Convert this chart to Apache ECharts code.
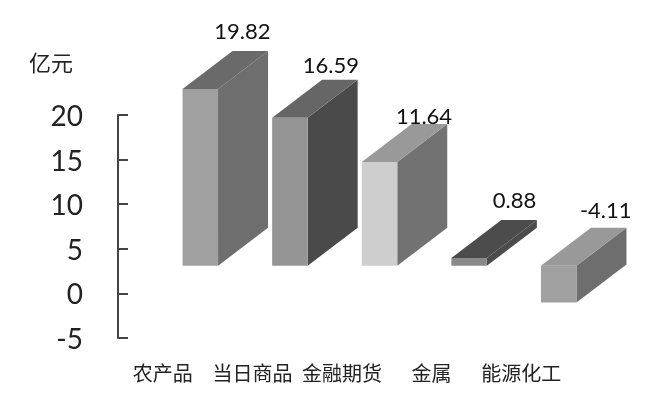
<!DOCTYPE html>
<html><head><meta charset="utf-8">
<style>html,body{margin:0;padding:0;background:#fff}#c{width:663px;height:405px}</style>
<script src="https://cdn.jsdelivr.net/npm/echarts@6/dist/echarts.min.js"></script>
</head><body><div id="c"></div>
<script>
const categories = ['农产品','当日商品','金融期货','金属','能源化工'];
const values = [19.82,16.59,11.64,0.88,-4.11];
const frontColors = ['#a0a0a0','#959595','#cecece','#8a8a8a','#a0a0a0'];
const sideColors = ['#6e6e6e','#4a4a4a','#727272','#4c4c4c','#6e6e6e'];
const topColors = ['#6a6a6a','#666666','#999999','#4c4c4c','#999999'];
const labelDx = [42,41,44.5,45.5,47];
const labelDy = [-19,-14,-7,-19,-17];
const latin = 'Lato, "Noto Sans CJK SC", sans-serif';
const cjk = '"Noto Sans CJK SC", sans-serif';
const chart = echarts.init(document.getElementById('c'));
const DX = 50, DY = -38, SHIFT = -27.6, OFFX = 37.5, W = 35.5;
function renderItem(params, api) {
  const i = params.dataIndex;
  const v = api.value(1);
  const zero = api.coord([i, 0]);
  const tip = api.coord([i, v]);
  const cx = zero[0] + OFFX;
  const l = cx - W / 2, r = cx + W / 2;
  const yTop = Math.min(zero[1], tip[1]) + SHIFT;
  const yBot = Math.max(zero[1], tip[1]) + SHIFT;
  return { type: 'group', children: [
    { type: 'polygon', shape: { points: [[r,yTop],[r+DX,yTop+DY],[r+DX,yBot+DY],[r,yBot]] }, style: { fill: sideColors[i] } },
    { type: 'polygon', shape: { points: [[l,yTop],[l+DX,yTop+DY],[r+DX,yTop+DY],[r,yTop]] }, style: { fill: topColors[i] } },
    { type: 'rect', shape: { x: l, y: yTop, width: W, height: yBot - yTop }, style: { fill: frontColors[i] } },
    { type: 'text', style: { text: v.toFixed(2), x: cx + labelDx[i], y: yTop + DY + labelDy[i], align: 'center', verticalAlign: 'middle', font: '22px ' + latin, fill: '#111' } }
  ]};
}
chart.setOption({
  animation: false,
  backgroundColor: '#fff',
  title: { text: '亿元', left: 24, top: 47, textStyle: { fontFamily: cjk, fontSize: 22, fontWeight: 'normal', color: '#222' } },
  grid: { left: 118, right: 97, top: 115, bottom: 67 },
  xAxis: { type: 'category', data: categories, axisLine: { show: false }, axisTick: { show: false },
    axisLabel: { interval: 0, margin: 25, fontFamily: cjk, fontSize: 20, color: '#222' } },
  yAxis: { type: 'value', min: -5, max: 20, interval: 5, splitLine: { show: false },
    axisLine: { show: true, lineStyle: { color: '#444', width: 2 } },
    axisTick: { show: true, inside: true, length: 10, lineStyle: { color: '#444', width: 2 } },
    axisLabel: { margin: 35, formatter: '{n|{value}}', rich: { n: { fontFamily: latin, fontSize: 28, color: '#222', padding: [4,0,0,0] } } } },
  series: [{ type: 'custom', renderItem, clip: false, data: values.map((v, i) => [i, v]) }]
});
</script></body></html>
